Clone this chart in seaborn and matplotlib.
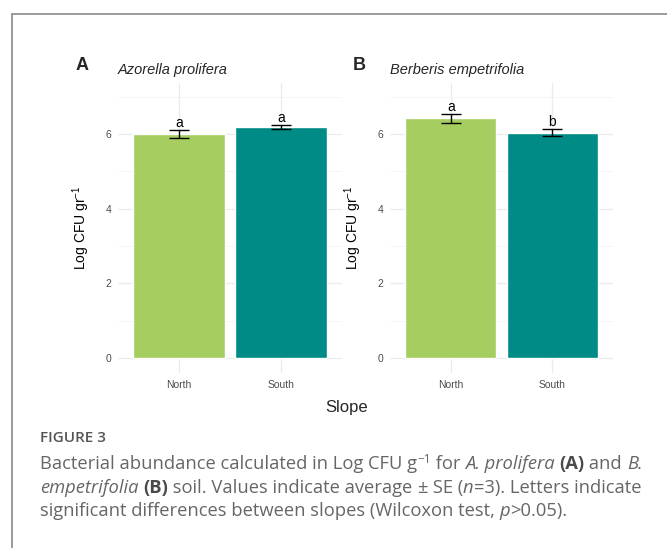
import matplotlib
matplotlib.use("Agg")
import matplotlib.pyplot as plt
from matplotlib.lines import Line2D
import pandas as pd
import seaborn as sns

# data
slopes = ["North", "South"]
species = ["Azorella prolifera", "Berberis empetrifolia"]
panel_tags = ["A", "B"]
azorella_mean = [6.00, 6.19]
azorella_se = [0.10, 0.05]
azorella_letters = ["a", "a"]
berberis_mean = [6.42, 6.04]
berberis_se = [0.11, 0.09]
berberis_letters = ["a", "b"]
bar_colors = ["#a5cd5f", "#008b86"]
y_ticks = [0, 2, 4, 6]
y_minor = [1, 3, 5, 7]

sns.set_style("white")
plt.rcParams["font.family"] = ["Liberation Sans", "DejaVu Sans"]
plt.rcParams["mathtext.fontset"] = "custom"
plt.rcParams["mathtext.rm"] = "Liberation Sans"
plt.rcParams["mathtext.it"] = "Liberation Sans:italic"

W, H = 667, 548
fig = plt.figure(figsize=(W / 100, H / 100), dpi=100)


def fx(px):
    return px / W


def fy(py):
    return (H - py) / H


panels = [
    (azorella_mean, azorella_se, azorella_letters, 118, 342, 76),
    (berberis_mean, berberis_se, berberis_letters, 390, 613, 353),
]

for i, (means, ses, lets, left, right, tag_x) in enumerate(panels):
    ax = fig.add_axes([fx(left), fy(373), fx(right - left), fy(83) - fy(373)])
    df = pd.DataFrame({"Slope": slopes, "logcfu": means, "se": ses})

    ax.set_axisbelow(True)
    for t in y_minor:
        ax.axhline(t, color="#f2f2f2", lw=0.5, zorder=0)
    for t in y_ticks:
        ax.axhline(t, color="#ebebeb", lw=0.9, zorder=0)
    for t in range(len(slopes)):
        ax.axvline(t, color="#ebebeb", lw=0.9, zorder=0)

    sns.barplot(data=df, x="Slope", y="logcfu", hue="Slope", palette=bar_colors,
                width=0.9, errorbar=None, legend=False, saturation=1, ax=ax, zorder=2)
    ax.errorbar(range(len(slopes)), df["logcfu"], yerr=df["se"], fmt="none",
                ecolor="black", elinewidth=1, capsize=7.2, capthick=1, zorder=3)
    for x, (m, s, lab) in enumerate(zip(means, ses, lets)):
        ax.annotate(lab, (x, m + s), xytext=(0, 2.5), textcoords="offset points",
                    ha="center", va="baseline", fontsize=10, color="black")

    ax.set_xlim(-0.6, 1.6)
    ax.set_ylim(-0.4, 7.37)
    ax.set_yticks(y_ticks)
    ax.tick_params(axis="both", length=0, labelsize=7.5, labelcolor="#4d4d4d")
    ax.tick_params(axis="y", pad=5)
    ax.tick_params(axis="x", pad=5)
    for sp in ax.spines.values():
        sp.set_visible(False)
    ax.set_xlabel("")
    ax.set_ylabel("Log CFU gr$^{-1}$", fontsize=10, color="black")
    ax.yaxis.set_label_coords(-0.115, 0.5)

    fig.text(fx(tag_x), fy(70), panel_tags[i], fontsize=13, fontweight="bold",
             va="baseline", ha="left")
    fig.text(fx(left), fy(74), species[i], fontsize=10.5, style="italic",
             va="baseline", ha="left")

fig.text(fx(347), fy(412), "Slope", fontsize=12, ha="center", va="baseline")

# frame around the figure
fig.add_artist(Line2D([fx(12), 1], [fy(14), fy(14)], color="#8a8a8a", lw=1.2))
fig.add_artist(Line2D([fx(12), fx(12)], [fy(14), 0], color="#8a8a8a", lw=1.2))

# caption
cap_color = "#666666"
cap_x = 40
fig.text(fx(cap_x), fy(442), "FIGURE 3", fontsize=11, color="#555555",
         fontweight="semibold", family=["Open Sans", "DejaVu Sans"], va="baseline")

caption_lines = [
    [("Bacterial abundance calculated in Log CFU g", "n"), ("\u22121", "sup"),
     (" for ", "n"), ("A. prolifera", "i"), (" ", "n"), ("(A)", "b"),
     (" and ", "n"), ("B.", "i")],
    [("empetrifolia", "i"), (" ", "n"), ("(B)", "b"),
     (" soil. Values indicate average ", "n"), ("\u00b1", "n"), (" SE (", "n"),
     ("n", "i"), ("=3). Letters indicate", "n")],
    [("significant differences between slopes (Wilcoxon test, ", "n"), ("p", "i"),
     (">0.05).", "n")],
]
caption_baselines = [469, 493, 516]

renderer = fig.canvas.get_renderer()
for segs, base in zip(caption_lines, caption_baselines):
    x = cap_x
    for txt, kind in segs:
        kw = dict(fontsize=13.2, color=cap_color, family=["Open Sans", "DejaVu Sans"],
                  va="baseline", ha="left")
        yy = base
        if kind == "i":
            kw["style"] = "italic"
        elif kind == "b":
            kw["fontweight"] = "bold"
            kw["color"] = "#4a4a4a"
        elif kind == "sup":
            kw["fontsize"] = 8.5
            yy = base - 6
        t = fig.text(fx(x), fy(yy), txt, **kw)
        bb = t.get_window_extent(renderer)
        x += bb.width

fig.savefig("out.png", dpi=100)
